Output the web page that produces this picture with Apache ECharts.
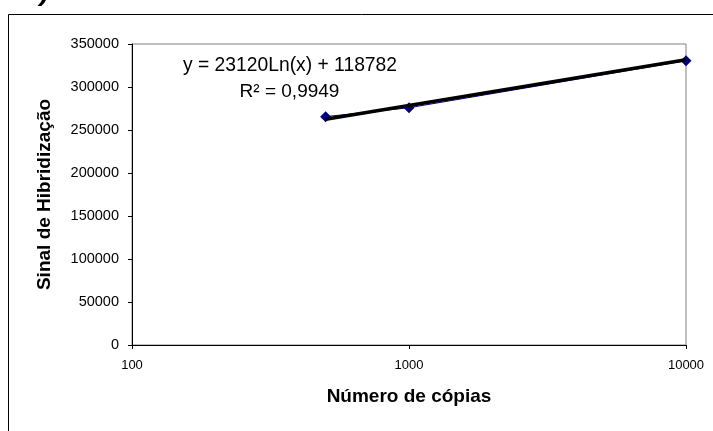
<!DOCTYPE html>
<html>
<head>
<meta charset="utf-8">
<script src="https://cdn.jsdelivr.net/npm/echarts@6/dist/echarts.min.js"></script>
<style>
html,body{margin:0;padding:0;background:#fff;}
#chart{width:713px;height:431px;}
</style>
</head>
<body>
<div id="chart"></div>
<script>
// Data
const copies = [500, 1000, 10000];
const signal = [265500, 275900, 330600];
// Logarithmic trend line endpoints (y = 23120 ln(x) + 118782)
const trendX = [500, 10000];
const trendY = [262500, 331700];
const xTicks = [100, 1000, 10000];
const yMin = 0, yMax = 350000, yStep = 50000;
const xTitle = 'Número de cópias';
const yTitle = 'Sinal de Hibridização';
const eqText = 'y = 23120Ln(x) + 118782';
const r2Text = 'R² = 0,9949';

const chart = echarts.init(document.getElementById('chart'), null, {renderer: 'canvas'});
const font = 'Liberation Sans, Arial, sans-serif';
chart.setOption({
  animation: false,
  backgroundColor: '#fff',
  grid: {left: 132, right: 27, top: 44, bottom: 86, show: true, borderColor: '#808080', borderWidth: 1, backgroundColor: 'transparent'},
  xAxis: {
    type: 'log', logBase: 10, min: xTicks[0], max: xTicks[xTicks.length - 1],
    name: xTitle, nameLocation: 'middle', nameGap: 42,
    nameTextStyle: {fontFamily: font, fontWeight: 'bold', fontSize: 19, color: '#000'},
    axisLine: {show: true, lineStyle: {color: '#000', width: 1}},
    axisTick: {show: true, length: 4, lineStyle: {color: '#000'}},
    minorTick: {show: false},
    axisLabel: {fontFamily: font, fontSize: 13, color: '#000', margin: 14, formatter: v => String(Math.round(v))},
    splitLine: {show: false}
  },
  yAxis: {
    type: 'value', min: yMin, max: yMax, interval: yStep,
    name: yTitle, nameLocation: 'middle', nameGap: 78, nameRotate: 90,
    nameTextStyle: {fontFamily: font, fontWeight: 'bold', fontSize: 19, color: '#000'},
    axisLine: {show: true, lineStyle: {color: '#000', width: 1}},
    axisTick: {show: true, length: 4, lineStyle: {color: '#000'}},
    axisLabel: {fontFamily: font, fontSize: 14.5, color: '#000', margin: 13, formatter: v => String(v)},
    splitLine: {show: false}
  },
  series: [
    {
      type: 'line', data: copies.map((c, i) => [c, signal[i]]),
      symbol: 'diamond', symbolSize: 11,
      itemStyle: {color: '#000080'},
      lineStyle: {color: '#000080', width: 1},
      z: 2
    },
    {
      type: 'line', data: trendX.map((c, i) => [c, trendY[i]]),
      symbol: 'none',
      lineStyle: {color: '#000', width: 3.5},
      z: 3
    }
  ],
  graphic: [
    {type: 'rect', shape: {x: 8.5, y: 14.5, width: 800, height: 500}, style: {fill: 'none', stroke: '#000', lineWidth: 1}, silent: true, z: -1},
    {type: 'text', left: 40, top: -22, style: {text: ')', font: 'italic bold 28px ' + font, fill: '#000'}},
    {type: 'text', x: 290, y: 66, style: {text: eqText, font: '19.3px ' + font, fill: '#000', align: 'center', verticalAlign: 'middle'}},
    {type: 'text', x: 289.5, y: 92, style: {text: r2Text, font: '19px ' + font, fill: '#000', align: 'center', verticalAlign: 'middle'}}
  ]
});
</script>
</body>
</html>
